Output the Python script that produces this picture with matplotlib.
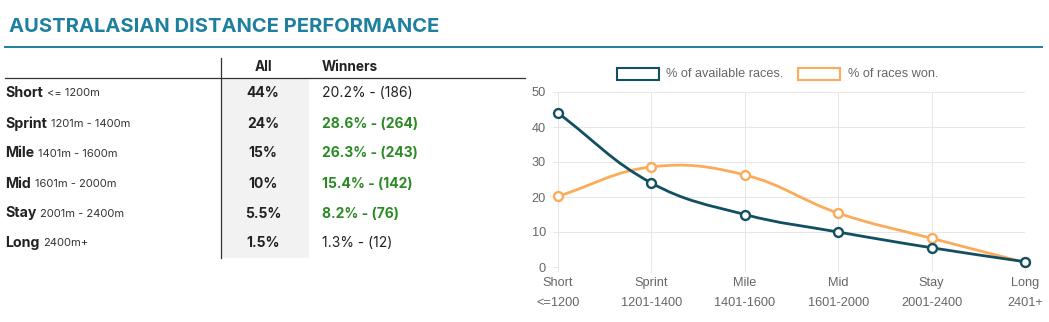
import matplotlib
matplotlib.use("Agg")
import matplotlib.pyplot as plt
from matplotlib.path import Path
from matplotlib.patches import PathPatch, Rectangle
from matplotlib.lines import Line2D
import numpy as np

# ---- data -----------------------------------------------------------------
categories = ["Short", "Sprint", "Mile", "Mid", "Stay", "Long"]
table_ranges = ["<= 1200m", "1201m - 1400m", "1401m - 1600m",
                "1601m - 2000m", "2001m - 2400m", "2400m+"]
axis_ranges = ["<=1200", "1201-1400", "1401-1600", "1601-2000", "2001-2400", "2401+"]
pct_available = [44, 24, 15, 10, 5.5, 1.5]
pct_won = [20.2, 28.6, 26.3, 15.4, 8.2, 1.3]
win_counts = [186, 264, 243, 142, 76, 12]
legend_labels = ["% of available races.", "% of races won."]
y_ticks = [0, 10, 20, 30, 40, 50]

# ---- style ----------------------------------------------------------------
W, H = 1049, 322
TEAL = "#1f7f9f"
DARK = "#124f63"
ORANGE = "#fcab5a"
GREEN = "#2b8a24"
INK = "#222222"
GREY_TXT = "#666666"
GRID = "#e6e6e6"
ZERO = "#bfbfbf"
TABLE_FONT = ["Inter", "DejaVu Sans"]
CHART_FONT = ["Liberation Sans", "DejaVu Sans"]
CHART_FS = 9.2

fig = plt.figure(figsize=(W / 100, H / 100), dpi=100)
fig.patch.set_facecolor("white")


def fx(x):
    return x / W


def fy(y):
    return 1 - y / H


def hline(x0, x1, y, color, lw):
    fig.add_artist(Line2D([fx(x0), fx(x1)], [fy(y), fy(y)], color=color, lw=lw))


def vline(x, y0, y1, color, lw):
    fig.add_artist(Line2D([fx(x), fx(x)], [fy(y0), fy(y1)], color=color, lw=lw))


# ---- title ----------------------------------------------------------------
fig.text(fx(9), fy(27), "AUSTRALASIAN DISTANCE PERFORMANCE", color=TEAL,
         fontsize=14.5, fontweight="bold", family=TABLE_FONT, va="center", ha="left")
hline(5, 1042, 47, TEAL, 1.4)

# ---- table ----------------------------------------------------------------
fig.add_artist(Rectangle((fx(222), fy(258)), fx(309) - fx(222), fy(79) - fy(258),
                         transform=fig.transFigure, facecolor="#f2f2f2",
                         edgecolor="none", zorder=0))
vline(221, 58, 258, "#333333", 0.9)
hline(5, 525, 78, "#333333", 0.9)

fig.text(fx(263), fy(67), "All", fontsize=9.8, fontweight="bold", color=INK,
         family=TABLE_FONT, ha="center", va="center")
fig.text(fx(322), fy(67), "Winners", fontsize=9.8, fontweight="bold", color=INK,
         family=TABLE_FONT, ha="left", va="center")

renderer = fig.canvas.get_renderer()
row_y = [93, 123.5, 153.5, 183.5, 213.5, 243]
for i, name in enumerate(categories):
    y = row_y[i]
    t = fig.text(fx(5), fy(y), name, fontsize=10.2, fontweight="bold", color=INK,
                 family=TABLE_FONT, ha="left", va="center")
    bb = t.get_window_extent(renderer)
    fig.text(fx(bb.x1 + 4), fy(y + 0.5), table_ranges[i], fontsize=8.0, color="#333333",
             family=TABLE_FONT, ha="left", va="center")
    fig.text(fx(263), fy(y), f"{pct_available[i]:g}%", fontsize=10, fontweight="bold",
             color=INK, family=TABLE_FONT, ha="center", va="center")
    better = pct_won[i] > pct_available[i]
    fig.text(fx(322), fy(y), f"{pct_won[i]:.1f}% - ({win_counts[i]})", fontsize=10,
             fontweight="bold" if better else "normal",
             color=GREEN if better else INK, family=TABLE_FONT,
             ha="left", va="center")

# ---- chart ----------------------------------------------------------------
ax = fig.add_axes([fx(558), fy(267), fx(1025) - fx(558), fy(92) - fy(267)])
x = np.arange(len(categories))
ax.set_xlim(0, len(categories) - 1)
ax.set_ylim(0, 50)
for s in ax.spines.values():
    s.set_visible(False)

ax.set_xticks(x)
ax.set_xticklabels([f"{c}\n{r}" for c, r in zip(categories, axis_ranges)],
                   family=CHART_FONT, fontsize=CHART_FS, color=GREY_TXT, linespacing=1.85)
ax.set_yticks(y_ticks)
ax.set_yticklabels([str(v) for v in y_ticks], family=CHART_FONT, fontsize=CHART_FS,
                   color=GREY_TXT)
ax.tick_params(axis="x", length=3.6, width=0.72, color=GRID, pad=3.5)
ax.tick_params(axis="y", length=3.6, width=0.72, color=GRID, pad=5)
ax.grid(True, color=GRID, lw=0.72)
ax.set_axisbelow(True)
ax.axhline(0, color=ZERO, lw=0.72, zorder=1)


def spline_path(values, tension=0.4):
    """Cubic bezier path through the points, using Chart.js style control points."""
    pts = ax.transData.transform(np.column_stack([x, values]))
    n = len(pts)
    prev_cp, next_cp = [], []
    for i in range(n):
        p0 = pts[max(i - 1, 0)]
        p1 = pts[i]
        p2 = pts[min(i + 1, n - 1)]
        d01 = np.hypot(*(p1 - p0))
        d12 = np.hypot(*(p2 - p1))
        tot = d01 + d12
        s01 = d01 / tot if tot else 0
        s12 = d12 / tot if tot else 0
        prev_cp.append(p1 - tension * s01 * (p2 - p0))
        next_cp.append(p1 + tension * s12 * (p2 - p0))
    verts = [pts[0]]
    codes = [Path.MOVETO]
    for i in range(n - 1):
        verts += [next_cp[i], prev_cp[i + 1], pts[i + 1]]
        codes += [Path.CURVE4] * 3
    verts = ax.transData.inverted().transform(np.array(verts))
    return Path(verts, codes)


for vals, col, z in [(pct_won, ORANGE, 3), (pct_available, DARK, 5)]:
    ax.add_patch(PathPatch(spline_path(vals), facecolor="none", edgecolor=col,
                           lw=2.0, zorder=z, clip_on=False, capstyle="round"))
    ax.plot(x, vals, "o", ms=6.4, mfc="white", mec=col, mew=1.7, zorder=z + 1,
            clip_on=False)

# legend
for (bx, tx), col, lab in zip([(617, 666), (798, 848)], [DARK, ORANGE], legend_labels):
    fig.add_artist(Rectangle((fx(bx), fy(80)), fx(42), fy(68) - fy(80),
                             transform=fig.transFigure, facecolor="white",
                             edgecolor=col, lw=1.5))
    fig.text(fx(tx), fy(74), lab, family=CHART_FONT, fontsize=CHART_FS, color=GREY_TXT,
             ha="left", va="center")

fig.savefig("out.png", dpi=100, facecolor="white")
